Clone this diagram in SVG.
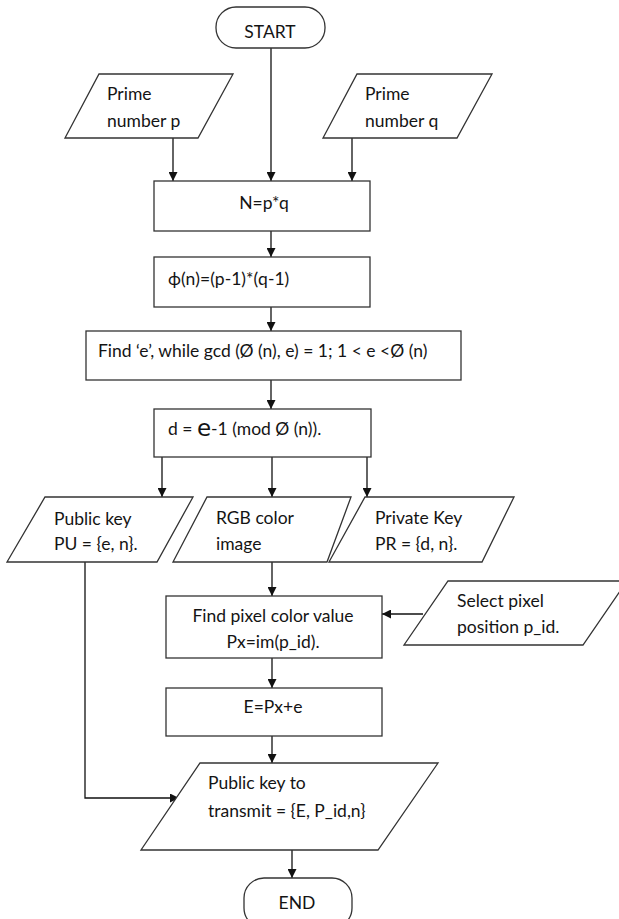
<svg xmlns="http://www.w3.org/2000/svg" width="619" height="919" viewBox="0 0 619 919">
<defs>
<style>
.n{fill:#fff;stroke:#333;stroke-width:1.3}
.t{font-family:Lato,"Liberation Sans",sans-serif;font-size:17.5px;fill:#141414;dominant-baseline:central}
.m{text-anchor:middle}
.c{fill:none;stroke:#111;stroke-width:1.3}
</style>
<marker id="a" viewBox="0 0 10 10" refX="10" refY="5" markerWidth="9" markerHeight="9" orient="auto" markerUnits="userSpaceOnUse"><path d="M0,0 L10,5 L0,10 z" fill="#111"/></marker>
</defs>
<rect width="619" height="919" fill="#fff"/>
<g id="connectors">
<path class="c" d="M173,138 V181" marker-end="url(#a)"/>
<path class="c" d="M271,48 V181" marker-end="url(#a)"/>
<path class="c" d="M352,138 V181" marker-end="url(#a)"/>
<path class="c" d="M271,231 V257" marker-end="url(#a)"/>
<path class="c" d="M271,307 V331" marker-end="url(#a)"/>
<path class="c" d="M271,380 V409" marker-end="url(#a)"/>
<path class="c" d="M162,457 V497" marker-end="url(#a)"/>
<path class="c" d="M272,457 V497" marker-end="url(#a)"/>
<path class="c" d="M367,457 V497" marker-end="url(#a)"/>
<path class="c" d="M272,562 V596" marker-end="url(#a)"/>
<path class="c" d="M423,614 H382" marker-end="url(#a)"/>
<path class="c" d="M272,658 V688" marker-end="url(#a)"/>
<path class="c" d="M272,736 V763" marker-end="url(#a)"/>
<path class="c" d="M85,562 V798 H179" marker-end="url(#a)"/>
<path class="c" d="M292,850 V878" marker-end="url(#a)"/>
</g>
<g id="start"><rect class="n" x="216" y="7" width="109" height="41" rx="20"/><text class="t m" x="270" y="31">START</text></g>
<g id="prime-p"><polygon class="n" points="99,74 233,74 198,138 65,138"/><text class="t" x="107" y="93">Prime</text><text class="t" x="107" y="120">number p</text></g>
<g id="prime-q"><polygon class="n" points="357,74 492,74 457,138 323,138"/><text class="t" x="365" y="93">Prime</text><text class="t" x="365" y="120">number q</text></g>
<g id="n-box"><rect class="n" x="154" y="181" width="216" height="50"/><text class="t m" x="264" y="202">N=p*q</text></g>
<g id="phi-box"><rect class="n" x="154" y="257" width="216" height="50"/><text class="t" x="168" y="278">ϕ(n)=(p-1)*(q-1)</text></g>
<g id="find-e"><rect class="n" x="86" y="331" width="375" height="49"/><text class="t" x="98" y="350">Find ‘e’, while gcd (Ø (n), e) = 1; 1 &lt; e &lt;Ø (n)</text></g>
<g id="d-box"><rect class="n" x="154" y="409" width="217" height="48"/><text class="t" x="168" y="428">d = <tspan font-size="23" font-family="'DejaVu Sans',sans-serif">e</tspan>-1 (mod Ø (n)).</text></g>
<g id="public-key"><polygon class="n" points="45,497 193,497 157,562 7,562"/><text class="t" x="54" y="518">Public key</text><text class="t" x="54" y="543">PU = {e, n}.</text></g>
<g id="rgb"><polygon class="n" points="207,497 351,497 327,562 173,562"/><text class="t" x="216" y="517">RGB color</text><text class="t" x="216" y="543">image</text></g>
<g id="private-key"><polygon class="n" points="365,497 514,497 482,562 329,562"/><text class="t" x="375" y="517">Private Key</text><text class="t" x="375" y="543">PR = {d, n}.</text></g>
<g id="find-pixel"><rect class="n" x="166" y="596" width="216" height="62"/><text class="t m" x="273" y="615">Find pixel color value</text><text class="t m" x="273" y="641">Px=im(p_id).</text></g>
<g id="select-pixel"><polygon class="n" points="448,581 627,581 583,645 404,645"/><text class="t" x="457" y="600">Select pixel</text><text class="t" x="457" y="626">position p_id.</text></g>
<g id="e-box"><rect class="n" x="166" y="688" width="216" height="48"/><text class="t m" x="273" y="706">E=Px+e</text></g>
<g id="transmit"><polygon class="n" points="200,763 438,763 378,850 141,850"/><text class="t" x="208" y="782">Public key to</text><text class="t" x="208" y="810">transmit = {E, P_id,n}</text></g>
<g id="end"><rect class="n" x="244" y="878" width="108" height="50" rx="20"/><text class="t m" x="297" y="902">END</text></g>
</svg>
